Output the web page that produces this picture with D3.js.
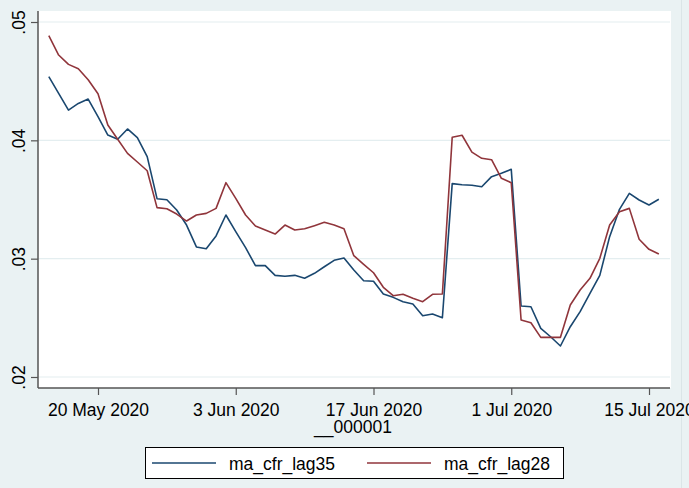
<!DOCTYPE html>
<html>
<head>
<meta charset="utf-8">
<script src="https://cdn.jsdelivr.net/npm/d3@7"></script>
<style>
  html, body { margin: 0; padding: 0; background: #eaf2f3; }
  svg { display: block; }
  text { font-family: "Liberation Sans", Arial, sans-serif; }
</style>
</head>
<body>
<svg id="chart" width="689" height="488"></svg>
<script>
// ---- data ----
const startDate = "2020-05-15";
const seriesNames = ["ma_cfr_lag35", "ma_cfr_lag28"];
const lag35 = [
  0.04538, 0.04397, 0.04256, 0.04312, 0.04349, 0.04200, 0.04045, 0.04009, 0.04096, 0.04023,
  0.03862, 0.03507, 0.03498, 0.03411, 0.03284, 0.03099, 0.03084, 0.03192, 0.03369, 0.03228,
  0.03093, 0.02941, 0.02941, 0.02859, 0.02851, 0.02859, 0.02834, 0.02876, 0.02932, 0.02986,
  0.03006, 0.02904, 0.02814, 0.02809, 0.02701, 0.02673, 0.02636, 0.02617, 0.02518, 0.02532,
  0.02501, 0.03634, 0.03625, 0.03620, 0.03608, 0.03693, 0.03721, 0.03755, 0.02600, 0.02594,
  0.02411, 0.02340, 0.02262, 0.02425, 0.02552, 0.02707, 0.02859, 0.03186, 0.03417, 0.03552,
  0.03496, 0.03453, 0.03502
];
const lag28 = [
  0.04884, 0.04721, 0.04642, 0.04605, 0.04512, 0.04394, 0.04130, 0.04009, 0.03890, 0.03817,
  0.03743, 0.03431, 0.03422, 0.03377, 0.03318, 0.03369, 0.03383, 0.03425, 0.03642, 0.03510,
  0.03369, 0.03276, 0.03242, 0.03208, 0.03284, 0.03242, 0.03253, 0.03279, 0.03307, 0.03284,
  0.03253, 0.03025, 0.02952, 0.02881, 0.02758, 0.02687, 0.02699, 0.02665, 0.02636, 0.02699,
  0.02701, 0.04026, 0.04043, 0.03901, 0.03848, 0.03836, 0.03679, 0.03642, 0.02482, 0.02459,
  0.02335, 0.02335, 0.02335, 0.02608, 0.02735, 0.02834, 0.03003, 0.03284, 0.03397, 0.03425,
  0.03164, 0.03079, 0.03039
];
const yTicks = [0.02, 0.03, 0.04, 0.05];
const yTickLabels = [".02", ".03", ".04", ".05"];
const xTicks = ["2020-05-20", "2020-06-03", "2020-06-17", "2020-07-01", "2020-07-15"];
const xTitle = "__000001";

// ---- layout ----
const colors = ["#1a476f", "#90353b"];
const mLeft = 38, mRight = 670, mTop = 11, mBottom = 388;
const svg = d3.select("#chart");
const parse = d3.utcParse("%Y-%m-%d");
const t0 = parse(startDate);
const dates = lag35.map((_, i) => d3.utcDay.offset(t0, i));
const xTickDates = xTicks.map(parse);

const dayMs = 864e5;
const x = d3.scaleUtc()
  .domain([new Date(xTickDates[0].getTime() - 6.098 * dayMs), new Date(xTickDates[4].getTime() + 2.134 * dayMs)])
  .range([mLeft, mRight]);
const y = d3.scaleLinear().domain([0.01907, 0.05093]).range([mBottom, mTop]);

// faint outer border at right edge
svg.append("line").attr("x1", 681.5).attr("x2", 681.5).attr("y1", 0).attr("y2", 488)
  .attr("stroke", "#dbe5e7").attr("stroke-width", 1);

// plot background
svg.append("rect").attr("x", mLeft).attr("y", mTop).attr("width", mRight - mLeft + 1).attr("height", mBottom - mTop)
  .attr("fill", "#ffffff");

// gridlines
svg.append("g").selectAll("line").data(yTicks).join("line")
  .attr("x1", mLeft).attr("x2", mRight)
  .attr("y1", d => y(d)).attr("y2", d => y(d))
  .attr("stroke", "#e4eef0").attr("stroke-width", 1.2);

// lines
const series = [lag35, lag28];
const line = d3.line().x((d, i) => x(dates[i])).y(d => y(d));
series.forEach((s, k) => {
  svg.append("path").datum(s).attr("d", line)
    .attr("fill", "none").attr("stroke", colors[k]).attr("stroke-width", 1.6)
    .attr("stroke-linejoin", "round");
});

// y axis
const yAxis = svg.append("g").attr("transform", `translate(${mLeft},0)`)
  .call(d3.axisLeft(y).tickValues(yTicks).tickFormat((d, i) => yTickLabels[i]).tickSize(7).tickSizeOuter(0));
yAxis.select(".domain").attr("stroke", "#555").attr("stroke-width", 1.5)
  .attr("d", `M0,${mTop}V${mBottom}`);
yAxis.selectAll(".tick line").attr("stroke", "#555").attr("stroke-width", 1.2);
yAxis.selectAll(".tick text")
  .attr("transform", "rotate(-90)")
  .attr("x", 0).attr("y", -13).attr("dy", 0)
  .attr("text-anchor", "middle")
  .attr("font-size", 17.5).attr("fill", "#000");

// x axis
const xAxis = svg.append("g").attr("transform", `translate(0,${mBottom})`)
  .call(d3.axisBottom(x).tickValues(xTickDates).tickFormat(d3.utcFormat("%-d %b %Y")).tickSize(7).tickSizeOuter(0));
xAxis.select(".domain").attr("stroke", "#555").attr("stroke-width", 1.5)
  .attr("d", `M${mLeft},0H${mRight}`);
xAxis.selectAll(".tick line").attr("stroke", "#555").attr("stroke-width", 1.2);
xAxis.selectAll(".tick text").attr("y", 28).attr("dy", 0)
  .attr("font-size", 17.5).attr("fill", "#000");

svg.append("text").attr("x", (mLeft + mRight) / 2 - 1).attr("y", 433)
  .attr("text-anchor", "middle").attr("font-size", 17.5).attr("fill", "#000").text(xTitle);

// legend
const lg = svg.append("g");
lg.append("rect").attr("x", 145.5).attr("y", 447.5).attr("width", 418).attr("height", 31)
  .attr("fill", "#fff").attr("stroke", "#000").attr("stroke-width", 1);
const legX = [152, 367];
seriesNames.forEach((n, k) => {
  lg.append("line").attr("x1", legX[k]).attr("x2", legX[k] + 64).attr("y1", 463).attr("y2", 463)
    .attr("stroke", colors[k]).attr("stroke-width", 1.6);
  lg.append("text").attr("x", legX[k] + 77).attr("y", 470).attr("font-size", 17.5).attr("fill", "#000").text(n);
});
</script>
</body>
</html>
